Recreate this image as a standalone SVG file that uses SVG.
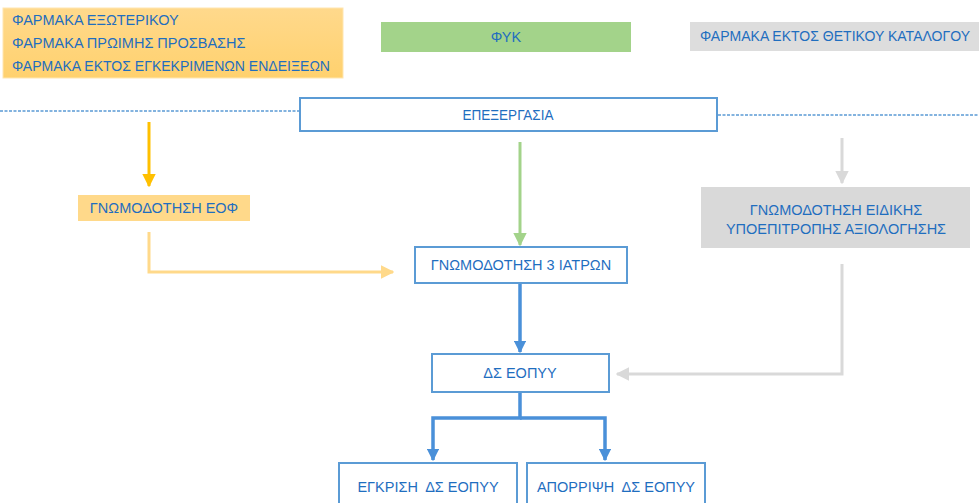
<svg xmlns="http://www.w3.org/2000/svg" width="979" height="503" viewBox="0 0 979 503">
<defs>
<linearGradient id="og" x1="0" y1="0" x2="0" y2="1"><stop offset="0" stop-color="#FFD98C"/><stop offset="1" stop-color="#FFD16E"/></linearGradient>
<marker id="ah-y" viewBox="0 0 10 10" refX="9" refY="5" markerWidth="4.5" markerHeight="4.5" orient="auto" markerUnits="strokeWidth"><path d="M0,0 L10,5 L0,10 z" fill="#FFC000"/></marker>
<marker id="ah-ly" viewBox="0 0 10 10" refX="9" refY="5" markerWidth="4.5" markerHeight="4.5" orient="auto" markerUnits="strokeWidth"><path d="M0,0 L10,5 L0,10 z" fill="#FFD98A"/></marker>
<marker id="ah-g" viewBox="0 0 10 10" refX="9" refY="5" markerWidth="4.5" markerHeight="4.5" orient="auto" markerUnits="strokeWidth"><path d="M0,0 L10,5 L0,10 z" fill="#A3D38A"/></marker>
<marker id="ah-gr" viewBox="0 0 10 10" refX="9" refY="5" markerWidth="4.5" markerHeight="4.5" orient="auto" markerUnits="strokeWidth"><path d="M0,0 L10,5 L0,10 z" fill="#D9D9D9"/></marker>
<marker id="ah-b" viewBox="0 0 10 10" refX="9" refY="5" markerWidth="3.5" markerHeight="3.5" orient="auto" markerUnits="strokeWidth"><path d="M0,0 L10,5 L0,10 z" fill="#4A90D9"/></marker>
</defs>
<style>
text{font-family:"Liberation Sans","Noto Sans",Arial,sans-serif;fill:#1F6EBF;font-size:14.5px}
.c{text-anchor:middle}
.wb{fill:#FFFFFF;stroke:#5B9BD5;stroke-width:2}
</style>
<rect width="979" height="503" fill="#FFFFFF"/>
<g id="connectors" fill="none">
<line x1="0" y1="111" x2="300" y2="111" stroke="#5B9BD5" stroke-width="1.4" stroke-dasharray="3,1.5"/>
<line x1="718" y1="115" x2="979" y2="115" stroke="#5B9BD5" stroke-width="1.4" stroke-dasharray="3,1.5"/>
<line x1="149" y1="122" x2="149" y2="186" stroke="#FFC000" stroke-width="3" marker-end="url(#ah-y)"/>
<polyline points="149,232 149,272 393,272" stroke="#FFD98A" stroke-width="3" marker-end="url(#ah-ly)"/>
<line x1="520" y1="142" x2="520" y2="245" stroke="#A3D38A" stroke-width="3" marker-end="url(#ah-g)"/>
<line x1="842" y1="138" x2="842" y2="183" stroke="#D9D9D9" stroke-width="3" marker-end="url(#ah-gr)"/>
<polyline points="842,264 842,374 617,374" stroke="#D9D9D9" stroke-width="3" marker-end="url(#ah-gr)"/>
<line x1="520" y1="284" x2="520" y2="352" stroke="#4A90D9" stroke-width="3.5" marker-end="url(#ah-b)"/>
<polyline points="520,393 520,418 433,418 433,460" stroke="#4A90D9" stroke-width="3.5" stroke-linejoin="miter" marker-end="url(#ah-b)"/>
<polyline points="520,418 605,418 605,460" stroke="#4A90D9" stroke-width="3.5" stroke-linejoin="miter" marker-end="url(#ah-b)"/>
</g>
<g id="n-farmaka">
<rect x="3" y="8" width="340" height="70" fill="url(#og)" stroke="#FFE6B0" stroke-width="1"/>
<text x="12" y="25">ΦΑΡΜΑΚΑ ΕΞΩΤΕΡΙΚΟΥ</text>
<text x="12" y="48">ΦΑΡΜΑΚΑ ΠΡΩΙΜΗΣ ΠΡΟΣΒΑΣΗΣ</text>
<text x="12" y="71" textLength="318" lengthAdjust="spacingAndGlyphs">ΦΑΡΜΑΚΑ ΕΚΤΟΣ ΕΓΚΕΚΡΙΜΕΝΩΝ ΕΝΔΕΙΞΕΩΝ</text>
</g>
<g id="n-fyk">
<rect x="381" y="22" width="250" height="30" fill="#A3D38A"/>
<text class="c" x="506" y="42">ΦΥΚ</text>
</g>
<g id="n-ektos">
<rect x="690" y="22" width="289" height="29" fill="#DDDDDD"/>
<text class="c" x="835" y="41" textLength="270" lengthAdjust="spacingAndGlyphs">ΦΑΡΜΑΚΑ ΕΚΤΟΣ ΘΕΤΙΚΟΥ ΚΑΤΑΛΟΓΟΥ</text>
</g>
<g id="n-epexergasia">
<rect class="wb" x="300" y="98" width="417" height="33"/>
<text class="c" x="508" y="120" textLength="91" lengthAdjust="spacingAndGlyphs">ΕΠΕΞΕΡΓΑΣΙΑ</text>
</g>
<g id="n-eof">
<rect x="78" y="195" width="172" height="26" fill="#FFD98A"/>
<text class="c" x="164" y="213">ΓΝΩΜΟΔΟΤΗΣΗ ΕΟΦ</text>
</g>
<g id="n-eidikis">
<rect x="701" y="187" width="269" height="61" fill="#D9D9D9"/>
<text class="c" x="836" y="215">ΓΝΩΜΟΔΟΤΗΣΗ ΕΙΔΙΚΗΣ</text>
<text class="c" x="836" y="234">ΥΠΟΕΠΙΤΡΟΠΗΣ ΑΞΙΟΛΟΓΗΣΗΣ</text>
</g>
<g id="n-3iatron">
<rect class="wb" x="415" y="247" width="212" height="36"/>
<text class="c" x="521" y="270">ΓΝΩΜΟΔΟΤΗΣΗ 3 ΙΑΤΡΩΝ</text>
</g>
<g id="n-ds">
<rect class="wb" x="432" y="354" width="177" height="38"/>
<text class="c" x="520" y="378">ΔΣ ΕΟΠΥΥ</text>
</g>
<g id="n-egkrisi">
<rect class="wb" x="339" y="463" width="178" height="45"/>
<text class="c" x="428" y="492" xml:space="preserve">ΕΓΚΡΙΣΗ  ΔΣ ΕΟΠΥΥ</text>
</g>
<g id="n-aporripsi">
<rect class="wb" x="527" y="463" width="178" height="45"/>
<text class="c" x="616" y="492" xml:space="preserve">ΑΠΟΡΡΙΨΗ  ΔΣ ΕΟΠΥΥ</text>
</g>
</svg>
